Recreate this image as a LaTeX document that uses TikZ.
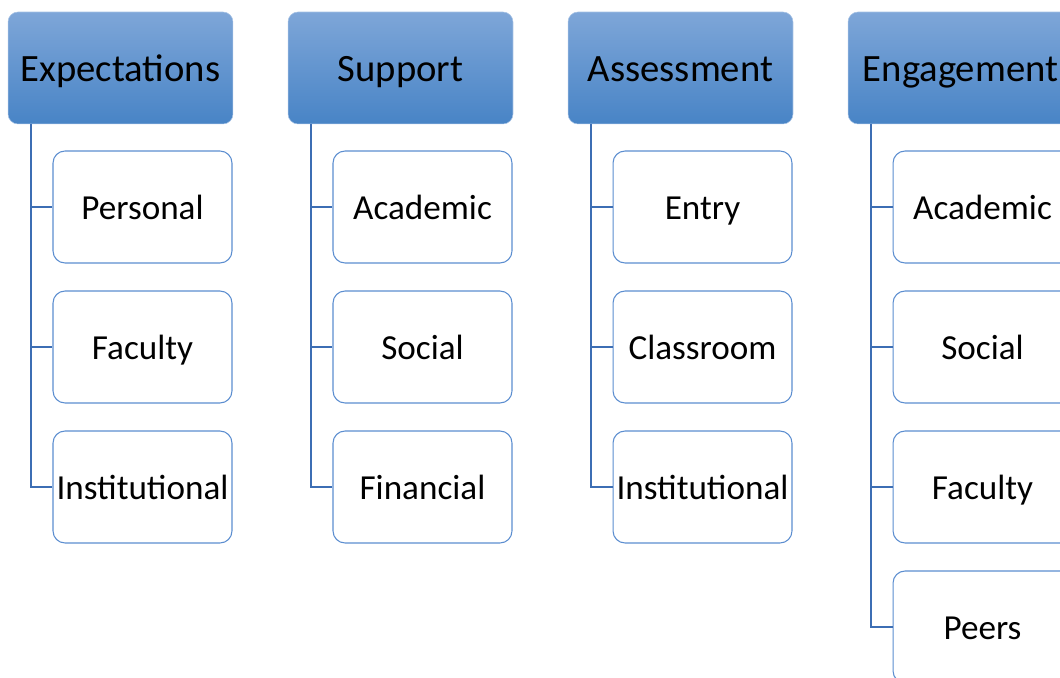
\documentclass[tikz,border=0pt]{standalone}
\usepackage{fontspec}
\setmainfont{Carlito}
\usetikzlibrary{positioning}
\definecolor{hdtop}{RGB}{126,166,216}
\definecolor{hdbot}{RGB}{72,132,198}
\definecolor{boxline}{RGB}{92,142,208}
\definecolor{linkline}{RGB}{60,110,180}

\begin{document}
\begin{tikzpicture}[x=0.02cm,y=-0.02cm,
    head/.style={rounded corners=0.2cm,top color=hdtop,bottom color=hdbot,draw=hdtop!70!white,line width=0.3pt,minimum width=4.5cm,minimum height=2.24cm,inner sep=0pt,text height=17.5pt,text depth=2pt,font=\fontsize{22}{26}\selectfont},
    item/.style={rounded corners=0.24cm,draw=boxline,fill=white,line width=0.6pt,minimum width=3.58cm,minimum height=2.24cm,inner sep=0pt,text height=16.5pt,text depth=2pt,font=\fontsize{20}{24}\selectfont},
    link/.style={draw=linkline,line width=0.6pt}]
    \useasboundingbox (0,0) rectangle (1060,678);
    \clip (0,0) rectangle (1060,678);

    \node[head] (expect) at (120.5,68) {Expectations};
    \node[head] (support) at (400.5,68) {Support};
    \node[head] (assess) at (680.5,68) {Assessment};
    \node[head] (engage) at (960.5,68) {Engagement};

    \coordinate (t1) at (31,124);
    \coordinate (t2) at (311,124);
    \coordinate (t3) at (591,124);
    \coordinate (t4) at (871,124);

    \node[item] (personal) at (142.5,207) {Personal};
    \node[item] (faculty1) at (142.5,347) {Faculty};
    \node[item] (instit1) at (142.5,487) {Institutional};

    \node[item] (academic1) at (422.5,207) {Academic};
    \node[item] (social1) at (422.5,347) {Social};
    \node[item] (financial) at (422.5,487) {Financial};

    \node[item] (entry) at (702.5,207) {Entry};
    \node[item] (classroom) at (702.5,347) {Classroom};
    \node[item] (instit2) at (702.5,487) {Institutional};

    \node[item] (academic2) at (982.5,207) {Academic};
    \node[item] (social2) at (982.5,347) {Social};
    \node[item] (faculty2) at (982.5,487) {Faculty};
    \node[item] (peers) at (982.5,627) {Peers};

    % trunk lines from each heading
    \foreach \from/\to in {t1/personal,t1/faculty1,t1/instit1,t2/academic1,t2/social1,t2/financial,t3/entry,t3/classroom,t3/instit2,t4/academic2,t4/social2,t4/faculty2,t4/peers}
    \draw[link] (\from) |- (\to.west);

\end{tikzpicture}
\end{document}
